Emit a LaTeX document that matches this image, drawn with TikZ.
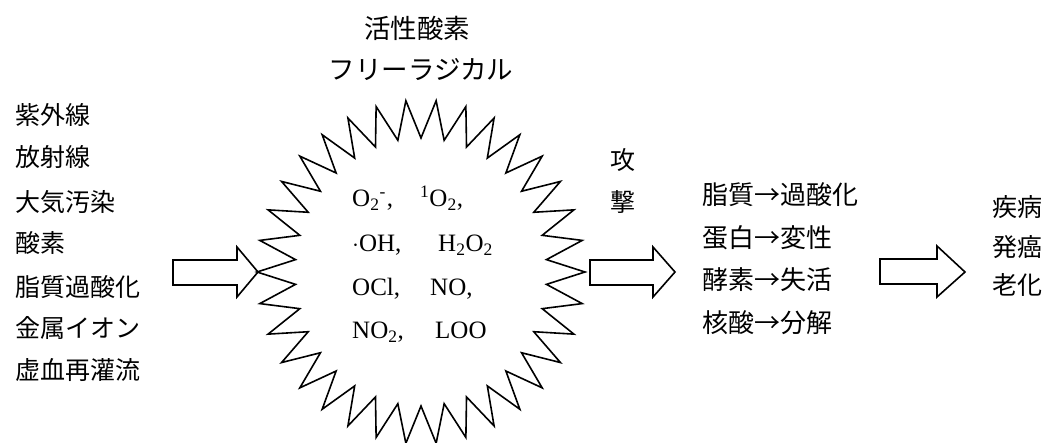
\documentclass[tikz,border=0pt]{standalone}
\usepackage{fontspec}
\setmainfont{Liberation Serif}
\newfontfamily\jp{Noto Sans CJK JP}
\begin{document}
\begin{tikzpicture}[x=1pt,y=-1pt,
  jl/.style={font=\jp\fontsize{25}{25}\selectfont, inner sep=0pt, anchor=west},
  jr/.style={font=\jp\fontsize{26}{26}\selectfont, inner sep=0pt, anchor=west},
  jtop/.style={font=\jp\fontsize{26.5}{26.5}\selectfont, inner sep=0pt, anchor=center},
  ch/.style={font=\fontsize{25}{25}\selectfont, inner sep=0pt, anchor=base west},
  blockarrow/.style={draw, line width=1.6pt, line join=miter},
  burst/.style={draw, line width=1.6pt, line join=miter}]
\useasboundingbox (0,0) rectangle (1052,443);
% starburst
\coordinate (c) at (421,272);
\draw[burst] (421+164,272)
  \foreach \k in {1,...,67} {
    -- ({421+(126+38*mod(\k+1,2))*cos(\k*(360/68))}, {272+(134+38*mod(\k+1,2))*sin(\k*(360/68))})
  } -- cycle;
% top labels
\node[jtop] (ros) at (417,28) {活性酸素};
\node[jtop] (fr) at (421,70) {フリーラジカル};
% left causes
\node[jl] (a1) at (15,115) {紫外線};
\node[jl] (a2) at (15,157) {放射線};
\node[jl] (a3) at (15,202) {大気汚染};
\node[jl] (a4) at (15,243) {酸素};
\node[jl] (a5) at (15,287) {脂質過酸化};
\node[jl] (a6) at (15,328) {金属イオン};
\node[jl] (a7) at (15,370) {虚血再灌流};
% species
\node[ch] (s1) at (352,207) {O\textsubscript{2}\textsuperscript{-}\kern1pt,};
\node[ch] (s2) at (420,207) {\textsuperscript{1}O\textsubscript{2},};
\node[ch] (s3) at (352,252) {$\cdot$OH,};
\node[ch] (s4) at (438,252) {H\textsubscript{2}O\textsubscript{2}};
\node[ch] (s5) at (352,296) {OCl,};
\node[ch] (s6) at (430,296) {NO,};
\node[ch] (s7) at (352,339) {NO\textsubscript{2},};
\node[ch] (s8) at (435,339) {LOO};
% attack
\node[jl, anchor=center] (k1) at (623,160) {攻};
\node[jl, anchor=center] (k2) at (623,202) {撃};
% effects
\node[jr] (b1) at (702,195) {脂質→過酸化};
\node[jr] (b2) at (702,238) {蛋白→変性};
\node[jr] (b3) at (702,280) {酵素→失活};
\node[jr] (b4) at (702,323) {核酸→分解};
% outcomes
\node[jl] (d1) at (992,207) {疾病};
\node[jl] (d2) at (992,247) {発癌};
\node[jl] (d3) at (992,285) {老化};
% block arrows
\draw[blockarrow] (173,260) -- (237,260) -- (237,247) -- (258,272) -- (237,297) -- (237,285) -- (173,285) -- cycle;
\draw[blockarrow] (590,260) -- (653,260) -- (653,247) -- (675,272) -- (653,297) -- (653,285) -- (590,285) -- cycle;
\draw[blockarrow] (880,259) -- (937,259) -- (937,246) -- (965,272) -- (937,297) -- (937,284) -- (880,284) -- cycle;
\end{tikzpicture}
\end{document}
